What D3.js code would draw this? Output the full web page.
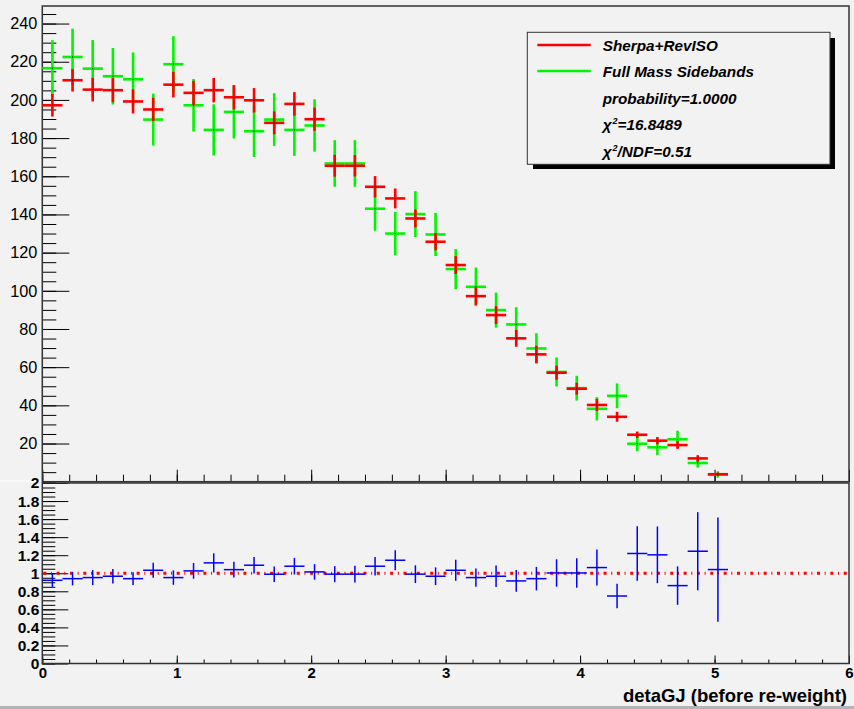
<!DOCTYPE html>
<html>
<head>
<meta charset="utf-8">
<script src="https://cdn.jsdelivr.net/npm/d3@7"></script>
<style>
  html, body { margin: 0; padding: 0; background: #f2f2f2; }
  svg { display: block; }
  text { font-family: "Liberation Sans", Arial, Helvetica, sans-serif; fill: #000; }
</style>
</head>
<body>
<svg id="chart" width="854" height="709"></svg>
<script>
// detaGJ distribution: Sherpa+RevISO vs Full Mass Sidebands, with ratio panel
const binWidth = 0.15;
const binCenters = d3.range(34).map(i => +(0.075 + i * binWidth).toFixed(3));

const sherpaValues = [197.2, 210.3, 205.4, 205.1, 199.2, 195.0, 208.0, 203.7, 205.1, 201.4,
                      199.8, 188.0, 197.9, 189.9, 165.5, 165.5, 154.5, 148.4, 137.9, 125.7,
                      113.5, 97.2, 87.3, 75.1, 66.7, 57.1, 48.7, 40.2, 34.0, 24.6,
                      21.5, 19.2, 12.2, 3.9];
const sherpaErrors = [5.9, 5.9, 6.2, 6.3, 6.3, 6.1, 6.7, 6.3, 6.4, 6.4,
                      6.4, 6.0, 6.2, 6.1, 5.7, 5.6, 5.6, 5.2, 4.7, 4.5,
                      4.7, 4.6, 4.7, 4.4, 4.5, 3.7, 3.1, 3.2, 2.6, 1.7,
                      1.9, 2.0, 1.7, 0.9];

const sidebandValues = [216.6, 222.5, 216.4, 212.4, 210.8, 189.7, 218.7, 197.2, 184.3, 193.7,
                        183.6, 189.7, 184.3, 186.6, 166.7, 166.7, 143.0, 130.0, 140.2, 129.5,
                        111.4, 102.1, 89.9, 82.4, 69.8, 57.5, 49.0, 38.2, 45.0, 19.9,
                        18.0, 22.2, 9.8, 3.75];
const sidebandErrors = [14.7, 14.8, 15.0, 14.8, 14.1, 13.6, 14.7, 13.8, 13.4, 13.9,
                        13.5, 13.8, 13.6, 13.7, 12.2, 12.2, 11.5, 11.3, 12.0, 11.3,
                        10.5, 10.1, 9.2, 9.0, 8.0, 7.6, 6.5, 6.1, 6.5, 3.9,
                        4.0, 4.5, 2.4, 1.7];

const ratioValues = [0.922, 0.940, 0.952, 0.967, 0.940, 1.033, 0.952, 1.026, 1.115, 1.040,
                     1.089, 0.989, 1.078, 1.015, 0.990, 0.990, 1.078, 1.144, 0.990, 0.967,
                     1.033, 0.952, 0.967, 0.915, 0.940, 1.003, 1.003, 1.063, 0.748, 1.219,
                     1.204, 0.863, 1.244, 1.041];
const ratioErrors = [0.074, 0.074, 0.083, 0.080, 0.070, 0.083, 0.080, 0.087, 0.106, 0.087,
                     0.092, 0.087, 0.092, 0.086, 0.089, 0.092, 0.102, 0.111, 0.098, 0.098,
                     0.117, 0.102, 0.119, 0.120, 0.130, 0.152, 0.163, 0.200, 0.137, 0.303,
                     0.314, 0.213, 0.433, 0.578];

const topYTicks = d3.range(20, 241, 20);
const topYMinor = d3.range(0, 249, 5);
const xTicks = [0, 1, 2, 3, 4, 5, 6];
const xMinor = d3.range(0, 6.001, 0.2);
const ratioTicks = d3.range(0, 2.001, 0.2).map(v => +v.toFixed(1));
const ratioMinor = d3.range(0, 2.001, 0.05);

const legendEntries = [
  { label: "Sherpa+RevISO", color: "#ff0000" },
  { label: "Full Mass Sidebands", color: "#00f500" }
];
const legendStats = ["probability=1.0000", "16.8489", "0.51"];

const svg = d3.select("#chart");
const W = 854, H = 709;

svg.append("rect").attr("width", W).attr("height", H).attr("fill", "#f2f2f2");

// scales
const x = d3.scaleLinear().domain([0, 6]).range([42.3, 849]);
const yTop = d3.scaleLinear().domain([0, 249.2]).range([481.7, 6]);
const yBot = d3.scaleLinear().domain([0, 2]).range([663.5, 483]);

// pad border details
svg.append("line").attr("x1", 0).attr("x2", 41).attr("y1", 481).attr("y2", 481)
  .attr("stroke", "#ffffff").attr("stroke-width", 1.2);
svg.append("rect").attr("x", 0).attr("y", 706).attr("width", W).attr("height", 3).attr("fill", "#b4b4b4");

function styleAxis(g) {
  g.select(".domain").remove();
  g.selectAll(".tick line").attr("stroke", "#000").attr("stroke-width", 1);
}

// ---------- upper pad ----------
const upperPad = svg.append("g");

// minor y ticks
upperPad.append("g").attr("transform", "translate(42.3,0)")
  .call(d3.axisLeft(yTop).tickValues(topYMinor).tickSizeInner(-14).tickSizeOuter(0).tickFormat(""))
  .call(styleAxis);
// major y ticks + labels
upperPad.append("g").attr("transform", "translate(42.3,0)")
  .call(d3.axisLeft(yTop).tickValues(topYTicks).tickSizeInner(-27).tickSizeOuter(0).tickPadding(5).tickFormat(d3.format("d")))
  .call(styleAxis)
  .call(g => g.selectAll("text").attr("font-size", 16.3).attr("font-family", "Liberation Sans, Arial, sans-serif"));

// x ticks of upper pad
upperPad.append("g").attr("transform", "translate(0,481.7)")
  .call(d3.axisBottom(x).tickValues(xMinor).tickSizeInner(-7).tickSizeOuter(0).tickFormat(""))
  .call(styleAxis);
upperPad.append("g").attr("transform", "translate(0,481.7)")
  .call(d3.axisBottom(x).tickValues(xTicks).tickSizeInner(-12).tickSizeOuter(0).tickFormat(""))
  .call(styleAxis);

// frame
upperPad.append("rect").attr("x", x(0)).attr("y", yTop(249.2))
  .attr("width", x(6) - x(0)).attr("height", yTop(0) - yTop(249.2))
  .attr("fill", "none").attr("stroke", "#333").attr("stroke-width", 1.5);

function drawHist(g, values, errors, color, yScale, width, dot) {
  const pts = g.append("g");
  binCenters.forEach((c, i) => {
    const v = values[i], e = errors[i];
    pts.append("line")
      .attr("x1", x(c - binWidth / 2)).attr("x2", x(c + binWidth / 2))
      .attr("y1", yScale(v)).attr("y2", yScale(v))
      .attr("stroke", color).attr("stroke-width", width);
    pts.append("line")
      .attr("x1", x(c)).attr("x2", x(c))
      .attr("y1", yScale(v - e)).attr("y2", yScale(v + e))
      .attr("stroke", color).attr("stroke-width", width);
    if (dot) {
      pts.append("rect").attr("x", x(c) - 0.5).attr("y", yScale(v) - 0.5)
        .attr("width", 1).attr("height", 1).attr("fill", "#000");
    }
  });
}

drawHist(upperPad, sidebandValues, sidebandErrors, "#00f500", yTop, 2.6, true);
drawHist(upperPad, sherpaValues, sherpaErrors, "#ff0000", yTop, 2.6, true);

// legend
const leg = svg.append("g");
leg.append("rect").attr("x", 533).attr("y", 38).attr("width", 302).attr("height", 131).attr("fill", "#000");
leg.append("rect").attr("x", 527.3).attr("y", 32.3).attr("width", 302.7).attr("height", 132)
  .attr("fill", "#f2f2f2").attr("stroke", "#333").attr("stroke-width", 1);

const rowY = [45, 71, 98, 124.3, 151];
const legFont = 15.3;
legendEntries.forEach((d, i) => {
  leg.append("line").attr("x1", 537.3).attr("x2", 590.7).attr("y1", rowY[i]).attr("y2", rowY[i])
    .attr("stroke", d.color).attr("stroke-width", 2.4);
  leg.append("text").attr("x", 602.7).attr("y", rowY[i] + 5.5)
    .attr("font-size", legFont).attr("font-weight", "bold").attr("font-style", "italic")
    .text(d.label);
});
leg.append("text").attr("x", 602.7).attr("y", rowY[2] + 5.5)
  .attr("font-size", legFont).attr("font-weight", "bold").attr("font-style", "italic")
  .text(legendStats[0]);
{
  const t = leg.append("text").attr("x", 602.7).attr("y", rowY[3] + 5.5)
    .attr("font-size", legFont).attr("font-weight", "bold").attr("font-style", "italic");
  t.append("tspan").text("χ");
  t.append("tspan").attr("font-size", 9).attr("dy", -5.5).attr("dx", 1).text("2");
  t.append("tspan").attr("dy", 5.5).text("=" + legendStats[1]);
}
{
  const t = leg.append("text").attr("x", 602.7).attr("y", rowY[4] + 5.5)
    .attr("font-size", legFont).attr("font-weight", "bold").attr("font-style", "italic");
  t.append("tspan").text("χ");
  t.append("tspan").attr("font-size", 9).attr("dy", -5.5).attr("dx", 1).text("2");
  t.append("tspan").attr("dy", 5.5).text("/NDF=" + legendStats[2]);
}

// ---------- ratio pad ----------
const ratioPad = svg.append("g");

ratioPad.append("g").attr("transform", "translate(42.3,0)")
  .call(d3.axisLeft(yBot).tickValues(ratioMinor).tickSizeInner(-13).tickSizeOuter(0).tickFormat(""))
  .call(styleAxis);
ratioPad.append("g").attr("transform", "translate(42.3,0)")
  .call(d3.axisLeft(yBot).tickValues(ratioTicks).tickSizeInner(-26).tickSizeOuter(0).tickPadding(3).tickFormat(d3.format("~g")))
  .call(styleAxis)
  .call(g => g.selectAll("text").attr("font-size", 15.5).attr("font-weight", "bold").attr("font-family", "Liberation Sans, Arial, sans-serif"));

ratioPad.append("g").attr("transform", "translate(0,663.5)")
  .call(d3.axisBottom(x).tickValues(xMinor).tickSizeInner(-4).tickSizeOuter(0).tickFormat(""))
  .call(styleAxis);
ratioPad.append("g").attr("transform", "translate(0,663.5)")
  .call(d3.axisBottom(x).tickValues(xTicks).tickSizeInner(-8).tickSizeOuter(0).tickPadding(4).tickFormat(d3.format("d")))
  .call(styleAxis)
  .call(g => g.selectAll("text").attr("font-size", 15).attr("font-weight", "bold").attr("font-family", "Liberation Sans, Arial, sans-serif"));

ratioPad.append("rect").attr("x", x(0)).attr("y", yBot(2))
  .attr("width", x(6) - x(0)).attr("height", yBot(0) - yBot(2))
  .attr("fill", "none").attr("stroke", "#333").attr("stroke-width", 1.5);

// unity reference line
ratioPad.append("line").attr("x1", x(0) + 1).attr("x2", x(6) - 1).attr("y1", yBot(1)).attr("y2", yBot(1))
  .attr("stroke", "#ff0000").attr("stroke-width", 3).attr("stroke-dasharray", "3,4.67,1,4.67");

drawHist(ratioPad, ratioValues, ratioErrors, "#0000ff", yBot, 1.5, false);

// x-axis title
svg.append("text").attr("x", 847).attr("y", 702).attr("text-anchor", "end")
  .attr("font-size", 18.5).attr("font-weight", "bold")
  .text("detaGJ (before re-weight)");
</script>
</body>
</html>
